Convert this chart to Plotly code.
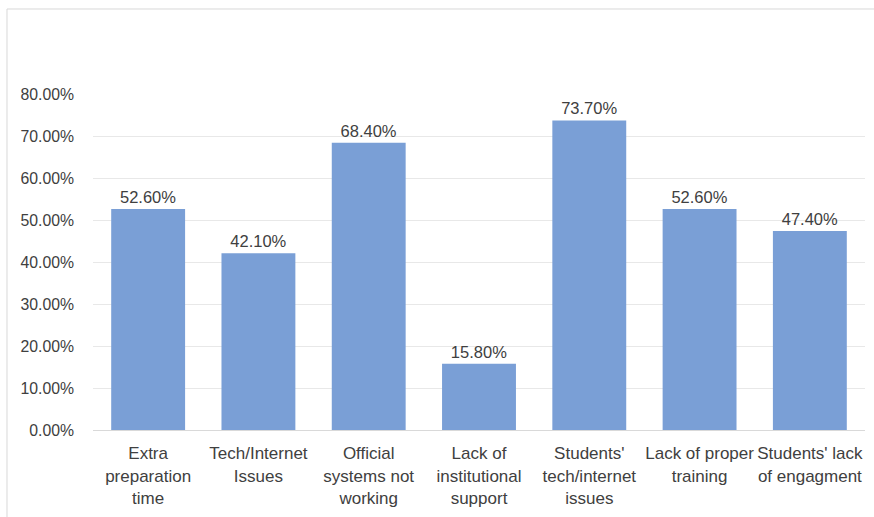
import plotly.graph_objects as go

categories = ["Extra<br>preparation<br>time", "Tech/Internet<br>Issues", "Official<br>systems not<br>working",
              "Lack of<br>institutional<br>support", "Students'<br>tech/internet<br>issues",
              "Lack of proper<br>training", "Students' lack<br>of engagment"]
values = [0.526, 0.421, 0.684, 0.158, 0.737, 0.526, 0.474]
tick_vals = [0, 0.1, 0.2, 0.3, 0.4, 0.5, 0.6, 0.7, 0.8]

font_family = "Liberation Sans, Arial, sans-serif"
text_color = "#404040"

fig = go.Figure(go.Bar(
    x=categories, y=values,
    marker=dict(color="#7a9fd6", line=dict(width=0)),
    width=0.67,
    text=[f"{v*100:.2f}%" for v in values],
    textposition="outside",
    textfont=dict(size=16.5, color=text_color, family=font_family),
    cliponaxis=False,
))

fig.update_layout(
    width=874, height=517,
    margin=dict(l=93, r=9, t=94, b=87),
    paper_bgcolor="white", plot_bgcolor="white",
    showlegend=False,
    font=dict(family=font_family, size=15, color=text_color),
    bargap=0.33,
    xaxis=dict(showgrid=False, showline=True, linecolor="#d9d9d9", linewidth=1,
               ticks="", tickfont=dict(size=17, color=text_color), ticklabelstandoff=8),
    yaxis=dict(range=[0, 0.8], tickvals=tick_vals, tickformat=".2%",
               showgrid=True, gridcolor="#e8e8e8", gridwidth=1,
               zeroline=False, showline=False, ticks="",
               tickfont=dict(size=15.8, color=text_color), ticklabelstandoff=18),
    shapes=[
        dict(type="line", xref="paper", yref="paper", x0=-0.1114, x1=1.02, y0=1.253, y1=1.253,
             line=dict(color="#d9d9d9", width=1)),
        dict(type="line", xref="paper", yref="paper", x0=-0.1114, x1=-0.1114, y0=1.253, y1=-0.3,
             line=dict(color="#d9d9d9", width=1)),
    ],
)

fig.write_html("out.html")
